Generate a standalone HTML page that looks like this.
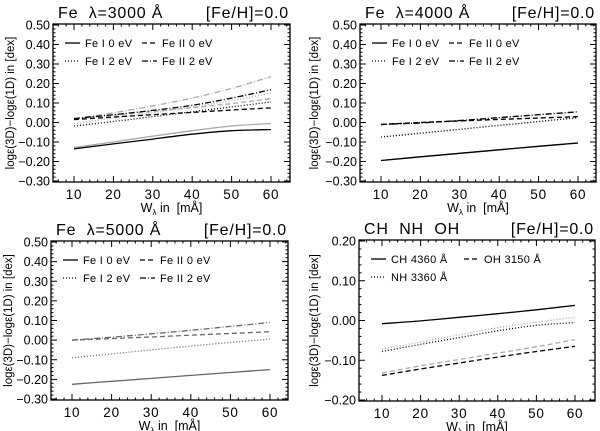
<!DOCTYPE html>
<html><head><meta charset="utf-8"><style>
html,body{margin:0;padding:0;background:#fff;}
svg{display:block;font-family:"Liberation Sans",sans-serif;}
text{white-space:pre;}
</style></head><body>
<svg id="fig" width="600" height="431" viewBox="0 0 600 431"></svg>
<script>
// ---- data ----
const wx = [10, 20, 30, 40, 50, 60];
const xTicks = [10, 20, 30, 40, 50, 60];
const yTicksFe = [0.5, 0.4, 0.3, 0.2, 0.1, 0.0, -0.1, -0.2, -0.3];
const yTicksMol = [0.2, 0.1, 0.0, -0.1, -0.2];
const titles = ["Fe\u00A0\u00A0\u03BB=3000\u00A0\u00C5", "Fe\u00A0\u00A0\u03BB=4000\u00A0\u00C5", "Fe\u00A0\u00A0\u03BB=5000\u00A0\u00C5", "CH\u00A0\u00A0NH\u00A0\u00A0OH"];
// panel 1 (3000 A)
const p1_fe1_0_k = [-0.135, -0.110, -0.085, -0.060, -0.042, -0.036];
const p1_fe1_0_g = [-0.128, -0.100, -0.070, -0.042, -0.018, -0.005];
const p1_fe2_0_k = [0.015, 0.028, 0.040, 0.052, 0.064, 0.075];
const p1_fe2_0_g = [0.020, 0.038, 0.057, 0.076, 0.097, 0.122];
const p1_fe1_2_k = [-0.018, 0.005, 0.030, 0.055, 0.080, 0.105];
const p1_fe1_2_g = [-0.005, 0.023, 0.050, 0.080, 0.112, 0.150];
const p1_fe2_2_k = [0.020, 0.040, 0.062, 0.088, 0.125, 0.168];
const p1_fe2_2_g = [0.020, 0.050, 0.085, 0.125, 0.175, 0.235];
// panel 2 (4000 A)
const p2_fe1_0 = [-0.195, -0.176, -0.158, -0.140, -0.122, -0.105];
const p2_fe2_0 = [-0.010, 0.000, 0.008, 0.016, 0.023, 0.030];
const p2_fe1_2 = [-0.075, -0.055, -0.035, -0.015, 0.005, 0.025];
const p2_fe2_2 = [-0.010, -0.002, 0.010, 0.025, 0.040, 0.055];
// panel 3 (5000 A)
const p3_fe1_0 = [-0.225, -0.210, -0.195, -0.180, -0.165, -0.150];
const p3_fe2_0 = [0.000, 0.008, 0.016, 0.025, 0.034, 0.043];
const p3_fe1_2 = [-0.090, -0.070, -0.050, -0.030, -0.012, 0.005];
const p3_fe2_2 = [0.000, 0.015, 0.032, 0.050, 0.070, 0.090];
// panel 4 (molecules)
const p4_ch = [-0.008, -0.001, 0.008, 0.017, 0.027, 0.038];
const p4_nh_k = [-0.078, -0.060, -0.043, -0.026, -0.012, -0.005];
const p4_nh_g = [-0.072, -0.054, -0.036, -0.018, -0.004, 0.008];
const p4_oh_k = [-0.138, -0.122, -0.107, -0.092, -0.078, -0.065];
const p4_oh_g = [-0.132, -0.114, -0.098, -0.082, -0.066, -0.048];

const NS = "http://www.w3.org/2000/svg";
const svg = document.getElementById("fig");
function mk(tag, attrs, parent){const e=document.createElementNS(NS,tag);for(const k in attrs)e.setAttribute(k,attrs[k]);(parent||svg).appendChild(e);return e;}
const DASH = {solid:"", dash:"5,3", dot:"1,2", dashdot:"6,2,1,2"};

const panels = [
 {L:53,R:290,T:24,B:182,x10:74,x60:271,yMax:0.5,yMin:-0.3,yt:yTicksFe,title:titles[0],ax:14,col:77,
  series:[[p1_fe1_0_g,"solid","#aaa"],[p1_fe2_0_g,"dash","#aaa"],[p1_fe1_2_g,"dot","#aaa"],[p1_fe2_2_g,"dashdot","#aaa"],
          [p1_fe1_0_k,"solid","#000"],[p1_fe2_0_k,"dash","#000"],[p1_fe1_2_k,"dot","#000"],[p1_fe2_2_k,"dashdot","#000"]],
  legend:"fe"},
 {L:360,R:596,T:24,B:182,x10:381,x60:578,yMax:0.5,yMin:-0.3,yt:yTicksFe,title:titles[1],ax:318,col:77,
  series:[[p2_fe1_0,"solid","#999"],[p2_fe2_0,"dash","#999"],[p2_fe1_2,"dot","#999"],[p2_fe2_2,"dashdot","#999"],
          [p2_fe1_0,"solid","#000"],[p2_fe2_0,"dash","#000"],[p2_fe1_2,"dot","#000"],[p2_fe2_2,"dashdot","#000"]],
  legend:"fe"},
 {L:51,R:288,T:241,B:400,x10:72,x60:270,yMax:0.5,yMin:-0.3,yt:yTicksFe,title:titles[2],ax:12,col:77,
  series:[[p3_fe1_0,"solid","#666"],[p3_fe2_0,"dash","#666"],[p3_fe1_2,"dot","#666"],[p3_fe2_2,"dashdot","#666"]],
  legend:"fe"},
 {L:359,R:595,T:240,B:401,x10:382,x60:575,yMax:0.2,yMin:-0.2,yt:yTicksMol,title:titles[3],ax:318,col:93,
  series:[[p4_nh_g,"dot","#aaa"],[p4_oh_g,"dash","#aaa"],[p4_ch,"solid","#000"],[p4_nh_k,"dot","#000"],[p4_oh_k,"dash","#000"]],
  legend:"mol"}
];

function smoothPath(pts){
  let d="M"+pts[0][0].toFixed(1)+","+pts[0][1].toFixed(1);
  for(let i=0;i<pts.length-1;i++){
    const p0=pts[Math.max(i-1,0)],p1=pts[i],p2=pts[i+1],p3=pts[Math.min(i+2,pts.length-1)];
    const c1=[p1[0]+(p2[0]-p0[0])/6,p1[1]+(p2[1]-p0[1])/6];
    const c2=[p2[0]-(p3[0]-p1[0])/6,p2[1]-(p3[1]-p1[1])/6];
    d+=` C${c1[0].toFixed(1)},${c1[1].toFixed(1)} ${c2[0].toFixed(1)},${c2[1].toFixed(1)} ${p2[0].toFixed(1)},${p2[1].toFixed(1)}`;
  }
  return d;
}

panels.forEach((p,i)=>{
  const g = mk("g",{});
  
  
  const xs = v => p.x10 + (v-10)*(p.x60-p.x10)/50;
  const ys = v => (p.T+1) + (p.yMax-v)*((p.B-1)-(p.T+1))/(p.yMax-p.yMin);
  const box = mk("rect",{x:p.L,y:p.T,width:p.R-p.L,height:p.B-p.T,fill:"none",stroke:"#000","stroke-width":1.3},g);
  
  
  for(let v=6; v<=64; v+=2){
    const x=xs(v); if(x<=p.L||x>=p.R) continue;
    const major = v%10===0;
    const len = major?6:2.5;
    mk("line",{x1:x,x2:x,y1:p.B,y2:p.B-len,stroke:"#000","stroke-width":1},g);
    mk("line",{x1:x,x2:x,y1:p.T,y2:p.T+len,stroke:"#000","stroke-width":1},g);
  }
  xTicks.forEach(v=>{
    const t=mk("text",{x:xs(v),y:p.B+17,"font-size":13.5,"text-anchor":"middle","letter-spacing":0.8},g);
    t.textContent=v;
    
    
  });
  const step=(p.yMax-p.yMin)/((p.yt.length-1)*5);
  for(let k=0;k<=(p.yt.length-1)*5;k++){
    const v=p.yMax-k*step, y=ys(v);
    const len = k%5===0?6:2.5;
    mk("line",{x1:p.L,x2:p.L+len,y1:y,y2:y,stroke:"#000","stroke-width":1},g);
    mk("line",{x1:p.R,x2:p.R-len,y1:y,y2:y,stroke:"#000","stroke-width":1},g);
  }
  p.yt.forEach(v=>{
    const t=mk("text",{x:p.L-3,y:ys(v)+4.5,"font-size":12.5,"text-anchor":"end"},g);
    t.textContent=(v<0?"\u2212":"")+Math.abs(v).toFixed(2);
    
    
  });
  const xt=mk("text",{x:(p.L+p.R)/2,y:p.B+30,"font-size":12.5,"text-anchor":"middle"},g);
  xt.innerHTML='W<tspan font-size="8" dy="3">\u03BB</tspan><tspan dy="-3">\u00A0in\u00A0\u00A0[m\u00C5]</tspan>';
  
  
  const cy=(p.T+p.B)/2;
  const yt=mk("text",{x:p.ax,y:cy,"font-size":11.5,"text-anchor":"middle",transform:`rotate(-90 ${p.ax} ${cy})`},g);
  yt.textContent="log\u03B5(3D)\u2212log\u03B5(1D)\u00A0in\u00A0[dex]";
  
  
  const tt=mk("text",{x:p.L+5,y:p.T-6,"font-size":16,"letter-spacing":0.8},g);
  tt.textContent=p.title;
  
  
  const tm=mk("text",{x:p.R-1,y:p.T-6,"font-size":16,"text-anchor":"end","letter-spacing":0.8},g);
  tm.textContent="[Fe/H]=0.0";
  
  
  p.series.forEach(s=>{
    const pts=s[0].map((v,j)=>[xs(wx[j]),ys(v)]);
    const path=mk("path",{d:smoothPath(pts),fill:"none",stroke:s[2],"stroke-width":1.3,"stroke-dasharray":DASH[s[1]]},g);
    
    
  });
  const ents = p.legend==="fe"
    ? [["Fe\u00A0I\u00A00\u00A0eV","solid",0,0],["Fe\u00A0II\u00A00\u00A0eV","dash",1,0],["Fe\u00A0I\u00A02\u00A0eV","dot",0,1],["Fe\u00A0II\u00A02\u00A0eV","dashdot",1,1]]
    : [["CH\u00A04360\u00A0\u00C5","solid",0,0],["OH\u00A03150\u00A0\u00C5","dash",1,0],["NH\u00A03360\u00A0\u00C5","dot",0,1]];
  ents.forEach(e=>{
    const lx=p.L+12+e[2]*p.col, ly=p.T+19+e[3]*18;
    const le=mk("g",{},g);
    
    
    mk("line",{x1:lx,x2:lx+15,y1:ly,y2:ly,stroke:"#000","stroke-width":1.3,"stroke-dasharray":DASH[e[1]]},le);
    const t=mk("text",{x:lx+20,y:ly+4,"font-size":11,"letter-spacing":0.3},le);
    t.textContent=e[0];
  });
});
</script>
</body></html>
